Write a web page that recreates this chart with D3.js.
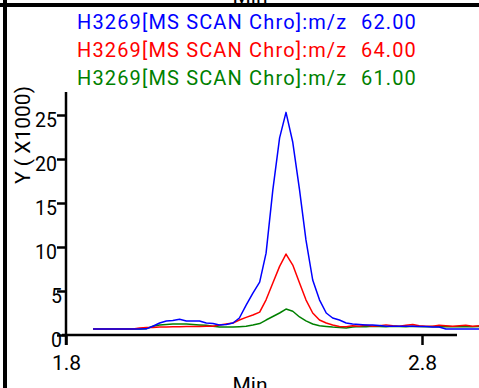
<!DOCTYPE html>
<html><head><meta charset="utf-8">
<script src="https://cdn.jsdelivr.net/npm/d3@7"></script>
<style>
html,body{margin:0;padding:0;background:#fff;overflow:hidden}
svg{display:block;font-family:Roboto,"Open Sans",sans-serif}
</style></head>
<body>
<svg id="c" width="479" height="388"></svg>
<script>
// ---- data ----
const times = [1.876,1.895,1.913,1.932,1.951,1.970,1.988,2.007,2.026,2.044,2.063,2.082,2.100,2.119,2.138,2.157,2.175,2.194,2.213,2.231,2.250,2.269,2.287,2.306,2.325,2.344,2.362,2.381,2.400,2.418,2.437,2.456,2.474,2.493,2.512,2.531,2.549,2.568,2.587,2.605,2.624,2.643,2.661,2.680,2.699,2.718,2.736,2.755,2.774,2.792,2.811,2.830,2.848,2.867,2.886,2.905,2.923,2.942,2.961];
const mz62 = [0.68,0.68,0.68,0.68,0.68,0.68,0.68,0.68,0.70,1.00,1.36,1.60,1.65,1.80,1.60,1.60,1.60,1.36,1.30,1.14,1.20,1.36,1.93,3.40,4.77,6.00,9.30,16.5,22.4,25.3,21.9,16.5,10.8,6.25,4.00,2.50,1.93,1.70,1.36,1.25,1.20,1.14,1.14,1.08,1.00,1.00,1.00,1.00,1.00,0.97,0.97,0.90,0.90,0.68,0.68,0.68,0.68,0.68,0.68];
const mz64 = [0.68,0.68,0.68,0.68,0.68,0.68,0.68,0.80,0.85,0.85,0.90,0.90,0.95,0.95,0.97,0.97,0.97,1.00,1.00,1.14,1.25,1.36,1.70,2.00,2.27,2.60,4.00,5.90,7.80,9.20,7.95,5.90,4.00,2.50,1.70,1.36,1.14,0.97,0.95,1.05,1.00,1.10,1.00,1.05,1.15,1.05,1.00,1.10,1.20,1.05,1.00,1.00,1.10,1.05,1.00,1.05,1.10,1.00,1.05];
const mz61 = [0.68,0.68,0.68,0.68,0.68,0.68,0.68,0.68,0.72,1.00,1.14,1.20,1.25,1.25,1.25,1.20,1.15,1.10,1.00,0.90,0.90,0.90,0.95,1.00,1.14,1.30,1.70,2.10,2.50,2.95,2.70,2.05,1.60,1.25,1.05,0.97,0.90,0.85,0.80,0.90,0.97,0.95,1.00,0.97,0.95,1.00,0.97,0.95,1.00,0.97,0.95,0.97,0.95,0.97,0.95,0.95,0.97,0.95,0.97];
const seriesNames = ["H3269[MS SCAN Chro]:m/z","H3269[MS SCAN Chro]:m/z","H3269[MS SCAN Chro]:m/z"];
const seriesMz = ["62.00","64.00","61.00"];
const seriesColors = ["#0000ff","#ff0000","#008000"];
const yTicks = [0,5,10,15,20,25];
const xTicks = [1.8,2.8];

// ---- chart ----
const svg = d3.select("#c");
const x = d3.scaleLinear().domain([1.8,2.8]).range([66,422]);
const y = d3.scaleLinear().domain([0,25]).range([335,115]);

// frame
svg.append("line").attr("x1",0).attr("x2",479).attr("y1",5).attr("y2",5).attr("stroke","#000").attr("stroke-width",4);
svg.append("line").attr("x1",5).attr("x2",5).attr("y1",0).attr("y2",388).attr("stroke","#000").attr("stroke-width",4);
svg.append("text").attr("x",250).attr("y",3).attr("text-anchor","middle").attr("font-size",21).text("Min");

// legend
[mz62,mz64,mz61].forEach((s,i)=>{
  const g = svg.append("g").attr("fill",seriesColors[i]).attr("font-size",20).attr("letter-spacing","1.15px");
  g.append("text").attr("x",77).attr("y",29+i*28).text(seriesNames[i]);
  g.append("text").attr("x",361).attr("y",29+i*28).text(seriesMz[i]);
});

// curves
const sets = [mz62,mz64,mz61];
[2,1,0].forEach(i=>{
  const line = d3.line().x((d,j)=>x(times[j])).y(d=>y(d));
  svg.append("path").datum(sets[i]).attr("d",line).attr("fill","none")
    .attr("stroke",seriesColors[i]).attr("stroke-width",1.5).attr("stroke-linejoin","round");
});

// y axis
const ya = svg.append("g").attr("transform","translate(66,0)")
  .call(d3.axisLeft(y).tickValues(yTicks).tickSize(9).tickFormat(d3.format("d")));
ya.select(".domain").remove();
ya.selectAll(".tick line").attr("stroke-width",2.5);
ya.selectAll(".tick text").attr("font-size",19.5).attr("font-family","Roboto,sans-serif")
  .attr("dy",null).attr("y",11)
  .attr("x",d=>String(d).length>1 ? -9 : -4);
svg.append("line").attr("x1",66).attr("x2",66).attr("y1",92).attr("y2",345).attr("stroke","#000").attr("stroke-width",2.5);

// x axis
const xa = svg.append("g").attr("transform","translate(0,335)")
  .call(d3.axisBottom(x).tickValues(xTicks).tickSize(10).tickPadding(10).tickFormat(d3.format(".1f")));
xa.select(".domain").remove();
xa.selectAll(".tick line").attr("stroke-width",2.5);
xa.selectAll(".tick text").attr("font-size",21).attr("font-family","Roboto,sans-serif");
svg.append("line").attr("x1",62).attr("x2",457).attr("y1",335).attr("y2",335).attr("stroke","#000").attr("stroke-width",2.5);

svg.append("text").attr("x",250).attr("y",392).attr("text-anchor","middle").attr("font-size",21).text("Min");
svg.append("text").attr("transform","translate(30,135) rotate(-90)").attr("text-anchor","middle").attr("font-size",21).text("Y ( X1000)");
</script>
</body></html>
